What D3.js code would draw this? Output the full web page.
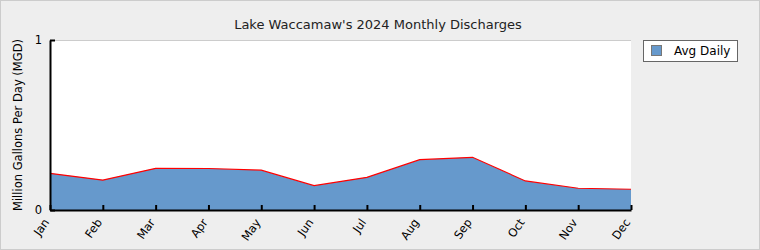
<!DOCTYPE html>
<html><head><meta charset="utf-8">
<script src="https://cdn.jsdelivr.net/npm/d3@7"></script>
<style>
html,body{margin:0;padding:0;background:#eeeeee;}
svg{display:block;font-family:"DejaVu Sans",sans-serif;}
</style></head>
<body>
<script>
const months = ["Jan","Feb","Mar","Apr","May","Jun","Jul","Aug","Sep","Oct","Nov","Dec"];
const avgDaily = [0.216,0.176,0.245,0.244,0.234,0.143,0.192,0.296,0.310,0.171,0.128,0.122];
const yTicks = [0,1];
const title = "Lake Waccamaw's 2024 Monthly Discharges";
const yTitle = "Million Gallons Per Day (MGD)";
const seriesName = "Avg Daily";

const W=760,H=250;
const m={l:50,r:129,t:40,b:40};
const svg=d3.select("body").append("svg").attr("width",W).attr("height",H);
svg.append("rect").attr("x",0.5).attr("y",0.5).attr("width",W-1).attr("height",H-1)
  .attr("fill","#eeeeee").attr("stroke","#cccccc");

const x=d3.scalePoint().domain(months).range([m.l,W-m.r]);
const y=d3.scaleLinear().domain([0,1]).range([H-m.b,m.t]);

svg.append("rect").attr("x",m.l).attr("y",m.t).attr("width",W-m.r-m.l).attr("height",H-m.b-m.t)
  .attr("fill","#ffffff");
svg.append("line").attr("x1",m.l).attr("x2",W-m.r).attr("y1",m.t+0.5).attr("y2",m.t+0.5).attr("stroke","#cccccc");

const data=months.map((mo,i)=>({m:mo,v:avgDaily[i]}));
svg.append("path").datum(data)
  .attr("d",d3.area().x(d=>x(d.m)).y0(y(0)).y1(d=>y(d.v)))
  .attr("fill","#6699cc");
svg.append("path").datum(data)
  .attr("d",d3.line().x(d=>x(d.m)).y(d=>y(d.v)))
  .attr("fill","none").attr("stroke","#ff0000").attr("stroke-width",1.2);

const xa=svg.append("g").attr("transform",`translate(0,${H-m.b})`)
  .call(d3.axisBottom(x).tickSize(-5).tickPadding(6).tickSizeOuter(0));
xa.select(".domain").attr("stroke","#000").attr("stroke-width",2);
xa.selectAll(".tick line").attr("stroke","#000").attr("stroke-width",2);
xa.selectAll(".tick text").attr("font-size",11.5).attr("fill","#000")
  .attr("text-anchor","end").attr("x",0).attr("y",0).attr("dy","0.35em")
  .attr("transform","translate(-4,10) rotate(-55)");
xa.attr("font-family",null);

const ya=svg.append("g").attr("transform",`translate(${m.l},0)`)
  .call(d3.axisLeft(y).tickValues(yTicks).tickFormat(d3.format("d")).tickSize(-5).tickPadding(8).tickSizeOuter(0));
ya.select(".domain").attr("stroke","#000").attr("stroke-width",2);
ya.selectAll(".tick line").attr("stroke","#000").attr("stroke-width",2);
ya.selectAll(".tick text").attr("font-size",11.5).attr("fill","#000");
ya.attr("font-family",null);

svg.append("text").attr("x",378).attr("y",29).attr("text-anchor","middle")
  .attr("font-size",13).attr("fill","#222").text(title);
svg.append("text").attr("transform",`translate(22,${(m.t+H-m.b)/2}) rotate(-90)`)
  .attr("text-anchor","middle").attr("font-size",11.5).attr("fill","#000").text(yTitle);

const lg=svg.append("g").attr("transform","translate(643,40)");
lg.append("rect").attr("x",0.5).attr("y",0.5).attr("width",94).attr("height",21)
  .attr("fill","#ffffff").attr("stroke","#666666");
lg.append("rect").attr("x",8.5).attr("y",5.5).attr("width",10).attr("height",10)
  .attr("fill","#6699cc").attr("stroke","#777");
lg.append("text").attr("x",31).attr("y",15).attr("font-size",12).attr("fill","#000").text(seriesName);
</script>
</body></html>
